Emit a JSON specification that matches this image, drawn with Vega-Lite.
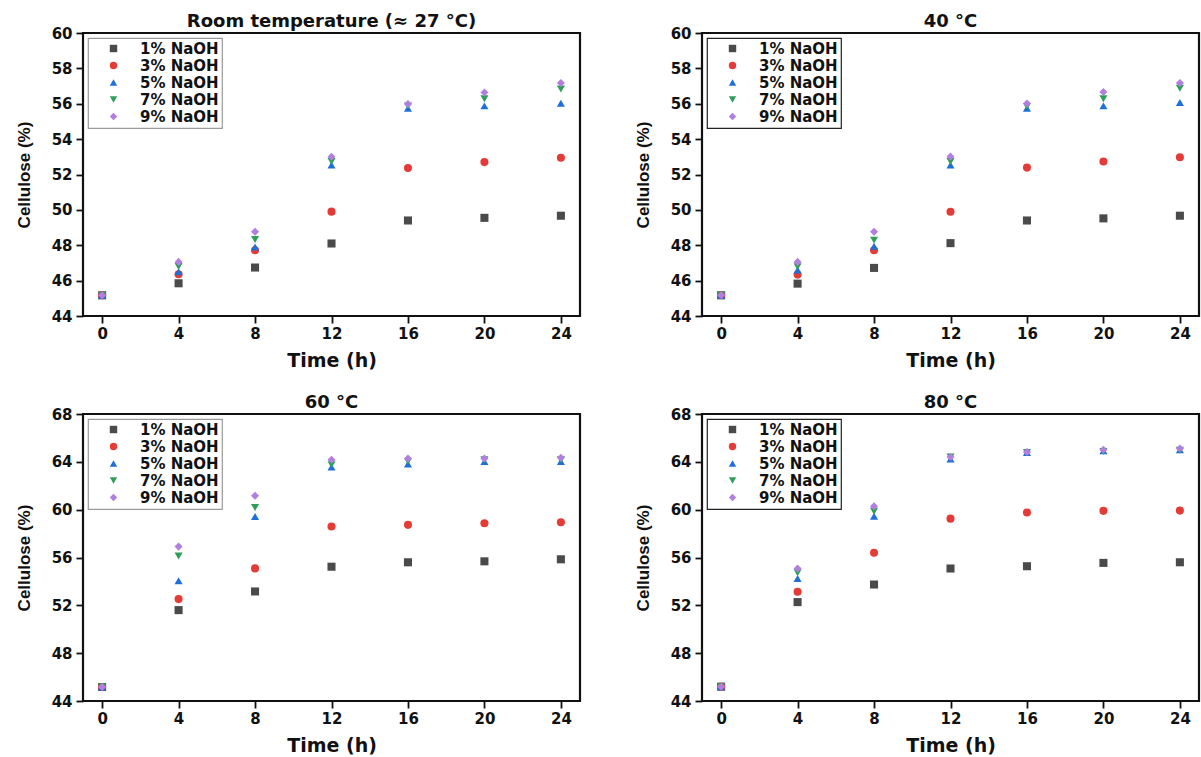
{
  "$schema": "https://vega.github.io/schema/vega-lite/v6.json",
  "background": "white",
  "padding": {"left": 14, "top": 11, "right": 2, "bottom": 2},
  "datasets": {
    "d": [
      {"panel": "rt", "naoh": "1% NaOH", "time": 0, "cellulose": 45.17},
      {"panel": "rt", "naoh": "1% NaOH", "time": 4, "cellulose": 45.85},
      {"panel": "rt", "naoh": "1% NaOH", "time": 8, "cellulose": 46.74},
      {"panel": "rt", "naoh": "1% NaOH", "time": 12, "cellulose": 48.1},
      {"panel": "rt", "naoh": "1% NaOH", "time": 16, "cellulose": 49.4},
      {"panel": "rt", "naoh": "1% NaOH", "time": 20, "cellulose": 49.55},
      {"panel": "rt", "naoh": "1% NaOH", "time": 24, "cellulose": 49.67},
      {"panel": "rt", "naoh": "3% NaOH", "time": 0, "cellulose": 45.17},
      {"panel": "rt", "naoh": "3% NaOH", "time": 4, "cellulose": 46.36},
      {"panel": "rt", "naoh": "3% NaOH", "time": 8, "cellulose": 47.72},
      {"panel": "rt", "naoh": "3% NaOH", "time": 12, "cellulose": 49.9},
      {"panel": "rt", "naoh": "3% NaOH", "time": 16, "cellulose": 52.37},
      {"panel": "rt", "naoh": "3% NaOH", "time": 20, "cellulose": 52.7},
      {"panel": "rt", "naoh": "3% NaOH", "time": 24, "cellulose": 52.95},
      {"panel": "rt", "naoh": "5% NaOH", "time": 0, "cellulose": 45.17},
      {"panel": "rt", "naoh": "5% NaOH", "time": 4, "cellulose": 46.5},
      {"panel": "rt", "naoh": "5% NaOH", "time": 8, "cellulose": 47.9},
      {"panel": "rt", "naoh": "5% NaOH", "time": 12, "cellulose": 52.54},
      {"panel": "rt", "naoh": "5% NaOH", "time": 16, "cellulose": 55.75},
      {"panel": "rt", "naoh": "5% NaOH", "time": 20, "cellulose": 55.88},
      {"panel": "rt", "naoh": "5% NaOH", "time": 24, "cellulose": 56.03},
      {"panel": "rt", "naoh": "7% NaOH", "time": 0, "cellulose": 45.17},
      {"panel": "rt", "naoh": "7% NaOH", "time": 4, "cellulose": 46.8},
      {"panel": "rt", "naoh": "7% NaOH", "time": 8, "cellulose": 48.33},
      {"panel": "rt", "naoh": "7% NaOH", "time": 12, "cellulose": 52.73},
      {"panel": "rt", "naoh": "7% NaOH", "time": 16, "cellulose": 55.88},
      {"panel": "rt", "naoh": "7% NaOH", "time": 20, "cellulose": 56.28},
      {"panel": "rt", "naoh": "7% NaOH", "time": 24, "cellulose": 56.83},
      {"panel": "rt", "naoh": "9% NaOH", "time": 0, "cellulose": 45.17},
      {"panel": "rt", "naoh": "9% NaOH", "time": 4, "cellulose": 47.06},
      {"panel": "rt", "naoh": "9% NaOH", "time": 8, "cellulose": 48.76},
      {"panel": "rt", "naoh": "9% NaOH", "time": 12, "cellulose": 53.0},
      {"panel": "rt", "naoh": "9% NaOH", "time": 16, "cellulose": 55.99},
      {"panel": "rt", "naoh": "9% NaOH", "time": 20, "cellulose": 56.64},
      {"panel": "rt", "naoh": "9% NaOH", "time": 24, "cellulose": 57.17},

      {"panel": "40", "naoh": "1% NaOH", "time": 0, "cellulose": 45.17},
      {"panel": "40", "naoh": "1% NaOH", "time": 4, "cellulose": 45.83},
      {"panel": "40", "naoh": "1% NaOH", "time": 8, "cellulose": 46.72},
      {"panel": "40", "naoh": "1% NaOH", "time": 12, "cellulose": 48.12},
      {"panel": "40", "naoh": "1% NaOH", "time": 16, "cellulose": 49.4},
      {"panel": "40", "naoh": "1% NaOH", "time": 20, "cellulose": 49.52},
      {"panel": "40", "naoh": "1% NaOH", "time": 24, "cellulose": 49.67},
      {"panel": "40", "naoh": "3% NaOH", "time": 0, "cellulose": 45.17},
      {"panel": "40", "naoh": "3% NaOH", "time": 4, "cellulose": 46.34},
      {"panel": "40", "naoh": "3% NaOH", "time": 8, "cellulose": 47.72},
      {"panel": "40", "naoh": "3% NaOH", "time": 12, "cellulose": 49.89},
      {"panel": "40", "naoh": "3% NaOH", "time": 16, "cellulose": 52.39},
      {"panel": "40", "naoh": "3% NaOH", "time": 20, "cellulose": 52.73},
      {"panel": "40", "naoh": "3% NaOH", "time": 24, "cellulose": 52.97},
      {"panel": "40", "naoh": "5% NaOH", "time": 0, "cellulose": 45.17},
      {"panel": "40", "naoh": "5% NaOH", "time": 4, "cellulose": 46.6},
      {"panel": "40", "naoh": "5% NaOH", "time": 8, "cellulose": 47.95},
      {"panel": "40", "naoh": "5% NaOH", "time": 12, "cellulose": 52.54},
      {"panel": "40", "naoh": "5% NaOH", "time": 16, "cellulose": 55.75},
      {"panel": "40", "naoh": "5% NaOH", "time": 20, "cellulose": 55.88},
      {"panel": "40", "naoh": "5% NaOH", "time": 24, "cellulose": 56.07},
      {"panel": "40", "naoh": "7% NaOH", "time": 0, "cellulose": 45.17},
      {"panel": "40", "naoh": "7% NaOH", "time": 4, "cellulose": 46.78},
      {"panel": "40", "naoh": "7% NaOH", "time": 8, "cellulose": 48.29},
      {"panel": "40", "naoh": "7% NaOH", "time": 12, "cellulose": 52.73},
      {"panel": "40", "naoh": "7% NaOH", "time": 16, "cellulose": 55.84},
      {"panel": "40", "naoh": "7% NaOH", "time": 20, "cellulose": 56.28},
      {"panel": "40", "naoh": "7% NaOH", "time": 24, "cellulose": 56.88},
      {"panel": "40", "naoh": "9% NaOH", "time": 0, "cellulose": 45.17},
      {"panel": "40", "naoh": "9% NaOH", "time": 4, "cellulose": 47.06},
      {"panel": "40", "naoh": "9% NaOH", "time": 8, "cellulose": 48.76},
      {"panel": "40", "naoh": "9% NaOH", "time": 12, "cellulose": 53.01},
      {"panel": "40", "naoh": "9% NaOH", "time": 16, "cellulose": 56.01},
      {"panel": "40", "naoh": "9% NaOH", "time": 20, "cellulose": 56.66},
      {"panel": "40", "naoh": "9% NaOH", "time": 24, "cellulose": 57.17},

      {"panel": "60", "naoh": "1% NaOH", "time": 0, "cellulose": 45.17},
      {"panel": "60", "naoh": "1% NaOH", "time": 4, "cellulose": 51.6},
      {"panel": "60", "naoh": "1% NaOH", "time": 8, "cellulose": 53.16},
      {"panel": "60", "naoh": "1% NaOH", "time": 12, "cellulose": 55.23},
      {"panel": "60", "naoh": "1% NaOH", "time": 16, "cellulose": 55.6},
      {"panel": "60", "naoh": "1% NaOH", "time": 20, "cellulose": 55.68},
      {"panel": "60", "naoh": "1% NaOH", "time": 24, "cellulose": 55.85},
      {"panel": "60", "naoh": "3% NaOH", "time": 0, "cellulose": 45.17},
      {"panel": "60", "naoh": "3% NaOH", "time": 4, "cellulose": 52.52},
      {"panel": "60", "naoh": "3% NaOH", "time": 8, "cellulose": 55.09},
      {"panel": "60", "naoh": "3% NaOH", "time": 12, "cellulose": 58.59},
      {"panel": "60", "naoh": "3% NaOH", "time": 16, "cellulose": 58.73},
      {"panel": "60", "naoh": "3% NaOH", "time": 20, "cellulose": 58.86},
      {"panel": "60", "naoh": "3% NaOH", "time": 24, "cellulose": 58.95},
      {"panel": "60", "naoh": "5% NaOH", "time": 0, "cellulose": 45.17},
      {"panel": "60", "naoh": "5% NaOH", "time": 4, "cellulose": 54.06},
      {"panel": "60", "naoh": "5% NaOH", "time": 8, "cellulose": 59.42},
      {"panel": "60", "naoh": "5% NaOH", "time": 12, "cellulose": 63.56},
      {"panel": "60", "naoh": "5% NaOH", "time": 16, "cellulose": 63.81},
      {"panel": "60", "naoh": "5% NaOH", "time": 20, "cellulose": 64.03},
      {"panel": "60", "naoh": "5% NaOH", "time": 24, "cellulose": 64.03},
      {"panel": "60", "naoh": "7% NaOH", "time": 0, "cellulose": 45.17},
      {"panel": "60", "naoh": "7% NaOH", "time": 4, "cellulose": 56.13},
      {"panel": "60", "naoh": "7% NaOH", "time": 8, "cellulose": 60.18},
      {"panel": "60", "naoh": "7% NaOH", "time": 12, "cellulose": 63.76},
      {"panel": "60", "naoh": "7% NaOH", "time": 16, "cellulose": 64.03},
      {"panel": "60", "naoh": "7% NaOH", "time": 20, "cellulose": 64.17},
      {"panel": "60", "naoh": "7% NaOH", "time": 24, "cellulose": 64.17},
      {"panel": "60", "naoh": "9% NaOH", "time": 0, "cellulose": 45.17},
      {"panel": "60", "naoh": "9% NaOH", "time": 4, "cellulose": 56.91},
      {"panel": "60", "naoh": "9% NaOH", "time": 8, "cellulose": 61.16},
      {"panel": "60", "naoh": "9% NaOH", "time": 12, "cellulose": 64.17},
      {"panel": "60", "naoh": "9% NaOH", "time": 16, "cellulose": 64.28},
      {"panel": "60", "naoh": "9% NaOH", "time": 20, "cellulose": 64.28},
      {"panel": "60", "naoh": "9% NaOH", "time": 24, "cellulose": 64.34},

      {"panel": "80", "naoh": "1% NaOH", "time": 0, "cellulose": 45.2},
      {"panel": "80", "naoh": "1% NaOH", "time": 4, "cellulose": 52.27},
      {"panel": "80", "naoh": "1% NaOH", "time": 8, "cellulose": 53.74},
      {"panel": "80", "naoh": "1% NaOH", "time": 12, "cellulose": 55.08},
      {"panel": "80", "naoh": "1% NaOH", "time": 16, "cellulose": 55.27},
      {"panel": "80", "naoh": "1% NaOH", "time": 20, "cellulose": 55.55},
      {"panel": "80", "naoh": "1% NaOH", "time": 24, "cellulose": 55.6},
      {"panel": "80", "naoh": "3% NaOH", "time": 0, "cellulose": 45.2},
      {"panel": "80", "naoh": "3% NaOH", "time": 4, "cellulose": 53.13},
      {"panel": "80", "naoh": "3% NaOH", "time": 8, "cellulose": 56.39},
      {"panel": "80", "naoh": "3% NaOH", "time": 12, "cellulose": 59.25},
      {"panel": "80", "naoh": "3% NaOH", "time": 16, "cellulose": 59.76},
      {"panel": "80", "naoh": "3% NaOH", "time": 20, "cellulose": 59.9},
      {"panel": "80", "naoh": "3% NaOH", "time": 24, "cellulose": 59.92},
      {"panel": "80", "naoh": "5% NaOH", "time": 0, "cellulose": 45.2},
      {"panel": "80", "naoh": "5% NaOH", "time": 4, "cellulose": 54.24},
      {"panel": "80", "naoh": "5% NaOH", "time": 8, "cellulose": 59.45},
      {"panel": "80", "naoh": "5% NaOH", "time": 12, "cellulose": 64.23},
      {"panel": "80", "naoh": "5% NaOH", "time": 16, "cellulose": 64.79},
      {"panel": "80", "naoh": "5% NaOH", "time": 20, "cellulose": 64.93},
      {"panel": "80", "naoh": "5% NaOH", "time": 24, "cellulose": 65.0},
      {"panel": "80", "naoh": "7% NaOH", "time": 0, "cellulose": 45.2},
      {"panel": "80", "naoh": "7% NaOH", "time": 4, "cellulose": 54.72},
      {"panel": "80", "naoh": "7% NaOH", "time": 8, "cellulose": 59.87},
      {"panel": "80", "naoh": "7% NaOH", "time": 12, "cellulose": 64.4},
      {"panel": "80", "naoh": "7% NaOH", "time": 16, "cellulose": 64.79},
      {"panel": "80", "naoh": "7% NaOH", "time": 20, "cellulose": 64.87},
      {"panel": "80", "naoh": "7% NaOH", "time": 24, "cellulose": 64.96},
      {"panel": "80", "naoh": "9% NaOH", "time": 0, "cellulose": 45.2},
      {"panel": "80", "naoh": "9% NaOH", "time": 4, "cellulose": 55.08},
      {"panel": "80", "naoh": "9% NaOH", "time": 8, "cellulose": 60.29},
      {"panel": "80", "naoh": "9% NaOH", "time": 12, "cellulose": 64.4},
      {"panel": "80", "naoh": "9% NaOH", "time": 16, "cellulose": 64.82},
      {"panel": "80", "naoh": "9% NaOH", "time": 20, "cellulose": 65.01},
      {"panel": "80", "naoh": "9% NaOH", "time": 24, "cellulose": 65.12}
    ]
  },
  "columns": 2,
  "spacing": {"column": 51, "row": 20},
  "resolve": {"scale": {"color": "independent", "shape": "independent", "x": "independent", "y": "independent"}, "legend": {"color": "independent", "shape": "independent"}},
  "concat": [
    {
      "width": 497, "height": 283,
      "title": "Room temperature (≈ 27 °C)",
      "data": {"name": "d"},
      "transform": [{"filter": "datum.panel === 'rt'"}],
      "mark": {"type": "point", "filled": true, "opacity": 1, "size": 65},
      "encoding": {
        "x": {"field": "time", "type": "quantitative", "title": "Time (h)", "scale": {"domain": [-1, 25], "nice": false, "zero": false}, "axis": {"values": [0, 4, 8, 12, 16, 20, 24]}},
        "y": {"field": "cellulose", "type": "quantitative", "title": "Cellulose (%)", "scale": {"domain": [44, 60], "nice": false, "zero": false}, "axis": {"values": [44, 46, 48, 50, 52, 54, 56, 58, 60]}},
        "color": {"field": "naoh", "type": "nominal", "scale": {"range": ["#4a4a4a", "#e53b36", "#1e6fd9", "#2f9e58", "#b07fe0"]}, "legend": {"title": null, "strokeColor": "#9a9a9a"}},
        "shape": {"field": "naoh", "type": "nominal", "scale": {"range": ["square", "circle", "triangle-up", "triangle-down", "diamond"]}, "legend": {"title": null, "strokeColor": "#9a9a9a"}}
      }
    },
    {
      "width": 497, "height": 283,
      "title": "40 °C",
      "data": {"name": "d"},
      "transform": [{"filter": "datum.panel === '40'"}],
      "mark": {"type": "point", "filled": true, "opacity": 1, "size": 65},
      "encoding": {
        "x": {"field": "time", "type": "quantitative", "title": "Time (h)", "scale": {"domain": [-1, 25], "nice": false, "zero": false}, "axis": {"values": [0, 4, 8, 12, 16, 20, 24]}},
        "y": {"field": "cellulose", "type": "quantitative", "title": "Cellulose (%)", "scale": {"domain": [44, 60], "nice": false, "zero": false}, "axis": {"values": [44, 46, 48, 50, 52, 54, 56, 58, 60]}},
        "color": {"field": "naoh", "type": "nominal", "scale": {"range": ["#4a4a4a", "#e53b36", "#1e6fd9", "#2f9e58", "#b07fe0"]}, "legend": {"title": null, "strokeColor": "#222222"}},
        "shape": {"field": "naoh", "type": "nominal", "scale": {"range": ["square", "circle", "triangle-up", "triangle-down", "diamond"]}, "legend": {"title": null, "strokeColor": "#222222"}}
      }
    },
    {
      "width": 497, "height": 287,
      "title": "60 °C",
      "data": {"name": "d"},
      "transform": [{"filter": "datum.panel === '60'"}],
      "mark": {"type": "point", "filled": true, "opacity": 1, "size": 65},
      "encoding": {
        "x": {"field": "time", "type": "quantitative", "title": "Time (h)", "scale": {"domain": [-1, 25], "nice": false, "zero": false}, "axis": {"values": [0, 4, 8, 12, 16, 20, 24]}},
        "y": {"field": "cellulose", "type": "quantitative", "title": "Cellulose (%)", "scale": {"domain": [44, 68], "nice": false, "zero": false}, "axis": {"values": [44, 48, 52, 56, 60, 64, 68]}},
        "color": {"field": "naoh", "type": "nominal", "scale": {"range": ["#4a4a4a", "#e53b36", "#1e6fd9", "#2f9e58", "#b07fe0"]}, "legend": {"title": null, "strokeColor": "#9a9a9a"}},
        "shape": {"field": "naoh", "type": "nominal", "scale": {"range": ["square", "circle", "triangle-up", "triangle-down", "diamond"]}, "legend": {"title": null, "strokeColor": "#9a9a9a"}}
      }
    },
    {
      "width": 497, "height": 287,
      "title": "80 °C",
      "data": {"name": "d"},
      "transform": [{"filter": "datum.panel === '80'"}],
      "mark": {"type": "point", "filled": true, "opacity": 1, "size": 65},
      "encoding": {
        "x": {"field": "time", "type": "quantitative", "title": "Time (h)", "scale": {"domain": [-1, 25], "nice": false, "zero": false}, "axis": {"values": [0, 4, 8, 12, 16, 20, 24]}},
        "y": {"field": "cellulose", "type": "quantitative", "title": "Cellulose (%)", "scale": {"domain": [44, 68], "nice": false, "zero": false}, "axis": {"values": [44, 48, 52, 56, 60, 64, 68]}},
        "color": {"field": "naoh", "type": "nominal", "scale": {"range": ["#4a4a4a", "#e53b36", "#1e6fd9", "#2f9e58", "#b07fe0"]}, "legend": {"title": null, "strokeColor": "#222222"}},
        "shape": {"field": "naoh", "type": "nominal", "scale": {"range": ["square", "circle", "triangle-up", "triangle-down", "diamond"]}, "legend": {"title": null, "strokeColor": "#222222"}}
      }
    }
  ],
  "config": {
    "font": "DejaVu Sans",
    "view": {"stroke": "#111111", "strokeWidth": 2.2},
    "title": {"font": "DejaVu Sans", "fontSize": 18, "fontWeight": "bold", "color": "#111111", "offset": -5, "anchor": "middle"},
    "axis": {
      "grid": false,
      "domain": false,
      "ticks": true,
      "tickColor": "#111111",
      "tickSize": 7,
      "tickWidth": 1.8,
      "labelFont": "DejaVu Sans",
      "labelFontSize": 15,
      "labelFontWeight": "bold",
      "labelColor": "#111111",
      "labelPadding": 3,
      "titleFont": "DejaVu Sans",
      "titleFontSize": 19,
      "titleFontWeight": "bold",
      "titleColor": "#111111"
    },
    "axisX": {"titlePadding": 10},
    "axisY": {"titlePadding": 18, "titleFont": "Liberation Sans", "titleFontSize": 17, "labelPadding": 4},
    "legend": {
      "orient": "top-left",
      "offset": 5,
      "padding": 3,
      "symbolOffset": 15,
      "labelOffset": 19,
      "labelFont": "DejaVu Sans",
      "labelFontSize": 15,
      "labelFontWeight": "bold",
      "labelColor": "#111111",
      "symbolSize": 55,
      "rowPadding": 1,
      "fillColor": "white",
      "strokeWidth": 1.2
    }
  }
}
